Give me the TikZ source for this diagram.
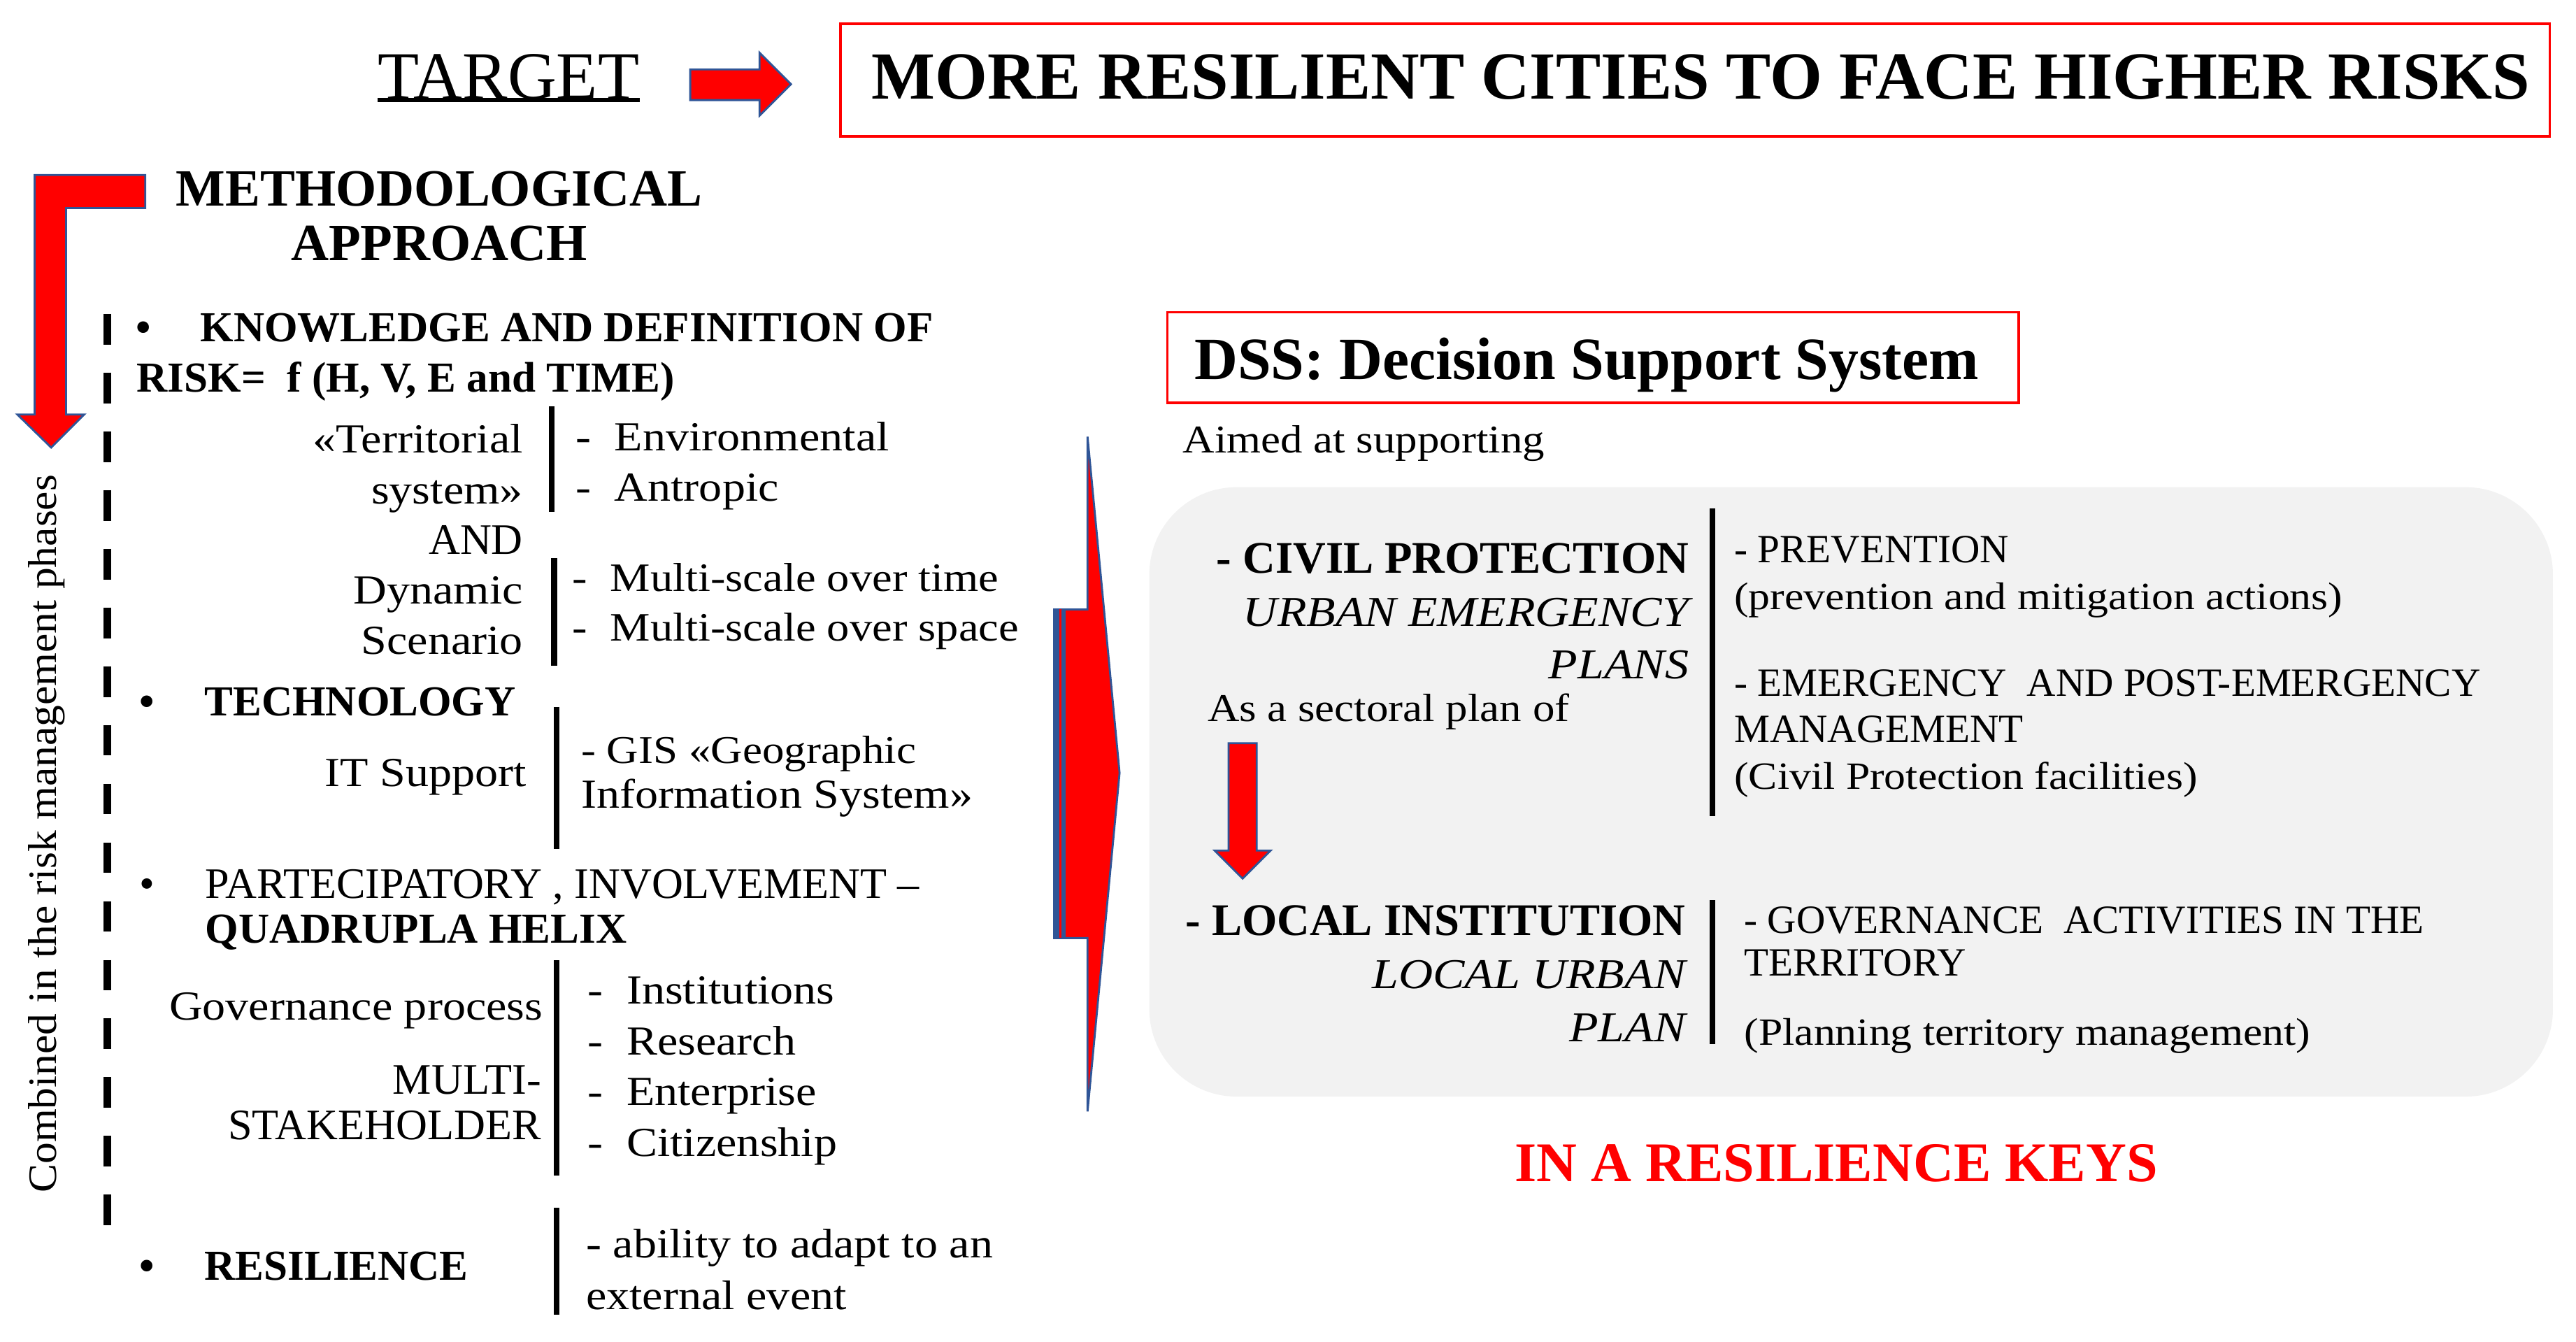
\documentclass[tikz,border=0pt]{standalone}
\usepackage{fontspec}
\setmainfont{Liberation Serif}
\newfontfamily\widefont{Liberation Serif}[FakeStretch=1.12]
\usetikzlibrary{positioning}

\definecolor{arrowblue}{RGB}{47,85,151}
\definecolor{boxgray}{RGB}{242,242,242}

\tikzset{
  txt/.style={inner sep=0pt, anchor=base west, font=\widefont\fontsize{16.8}{20}\selectfont},
  rtxt/.style={txt, anchor=base east},
  narrow/.style={font=\widefont\fontsize{16}{19}\selectfont},
  ctxt/.style={txt, font=\fontsize{17.7}{21}\selectfont},
  rctxt/.style={ctxt, anchor=base east},
  btxt/.style={txt, font=\fontsize{17.4}{21}\selectfont\bfseries},
  lbtxt/.style={txt, anchor=base east, font=\fontsize{18.4}{22}\selectfont\bfseries},
  litxt/.style={txt, anchor=base east, font=\widefont\fontsize{17.3}{21}\selectfont\itshape},
  gctxt/.style={txt, font=\fontsize{16.3}{19}\selectfont},
  gtxt/.style={txt, font=\widefont\fontsize{15.7}{19}\selectfont},
  bar/.style={line width=2.4pt},
  redarrow/.style={fill=red, draw=arrowblue, line width=0.8pt},
  redbox/.style={draw=red, line width=1pt},
}

\begin{document}
\begin{tikzpicture}[x=0.023615cm, y=-0.023615cm]
  \useasboundingbox (0,0) rectangle (1560,812.6);

  % target row
  \node[txt, anchor=base, font=\fontsize{27.5}{30}\selectfont] (target) at (308,60) {TARGET};
  \draw[line width=1.8pt, yshift=-3.5pt] (target.south west) -- (target.south east);
  \fill[redarrow] (418,42) -- (460,42) -- (460,32) -- (479,51) -- (460,70) -- (460,60.6) -- (418,60.6) -- cycle;
  \draw[redbox] (509,14.5) rectangle (1544,82.6);
  \node[txt, anchor=base, font=\fontsize{27.4}{30}\selectfont\bfseries] (goal) at (1030,60) {MORE RESILIENT CITIES TO FACE HIGHER RISKS};

  % methodological approach
  \fill[redarrow] (88,106) -- (88,126) -- (40,126) -- (40,251) -- (51,251) -- (31,271) -- (10.5,251) -- (21,251) -- (21,106) -- cycle;
  \node[txt, anchor=base, font=\fontsize{21.3}{25}\selectfont\bfseries] (metho) at (266,124.8) {METHODOLOGICAL};
  \node[txt, anchor=base, font=\fontsize{21.3}{25}\selectfont\bfseries] (appr) at (266,157.9) {APPROACH};

  \draw[line width=3.2pt, dash pattern=on 12.5pt off 11.4pt] (65,190) -- (65,758);
  \node[txt, rotate=90] (phases) at (33.9,722.6) {\resizebox{10.27cm}{0.40cm}{Combined in the risk management phases}};

  % knowledge
  \node[btxt, anchor=base] (bul1) at (87,207) {•};
  \node[btxt] (know) at (121,207) {KNOWLEDGE AND DEFINITION OF};
  \node[btxt] (riskf) at (82.5,237.3) {RISK=\ \ f (H, V, E and TIME)};
  \node[rtxt] (terr) at (317,274) {«Territorial};
  \node[rtxt] (syst) at (317,305) {system»};
  \draw[bar] (334,246) -- (334,310);
  \node[txt] (env) at (348.5,273) {-\ \ Environmental};
  \node[txt] (antr) at (348.5,303.6) {-\ \ Antropic};
  \node[rctxt] (andn) at (317,335.4) {AND};
  \node[rtxt] (dyn) at (317,365.5) {Dynamic};
  \node[rtxt] (scen) at (317,396) {Scenario};
  \draw[bar] (335.5,338) -- (335.5,403);
  \node[txt, font=\widefont\fontsize{16.4}{20}\selectfont] (mtime) at (346.5,358) {-\ \ Multi-scale over time};
  \node[txt, font=\widefont\fontsize{16.4}{20}\selectfont] (mspace) at (346.5,388.3) {-\ \ Multi-scale over space};

  % technology
  \node[btxt, anchor=base] (bul2) at (89,433.6) {•};
  \node[btxt] (tech) at (123.6,433.6) {TECHNOLOGY};
  \node[rtxt] (itsup) at (319,476) {IT Support};
  \draw[bar] (337,428) -- (337,514);
  \node[txt, narrow] (gis) at (351.7,462) {- GIS «Geographic};
  \node[txt] (gisb) at (351.7,489.4) {Information System»};

  % participation
  \node[ctxt, anchor=base] (bul3) at (89,544) {•};
  \node[ctxt] (part) at (124,544) {PARTECIPATORY , INVOLVEMENT --};
  \node[btxt] (quad) at (124,571) {QUADRUPLA HELIX};
  \node[rtxt] (gov) at (329,617.8) {Governance process};
  \node[rctxt] (multi) at (328,662.6) {MULTI-};
  \node[rctxt] (stake) at (328,690) {STAKEHOLDER};
  \draw[bar] (337,581.5) -- (337,712);
  \node[txt] (inst) at (355.8,608) {-\ \ Institutions};
  \node[txt] (rsrch) at (355.8,638.6) {-\ \ Research};
  \node[txt] (ent) at (355.8,669.4) {-\ \ Enterprise};
  \node[txt] (cit) at (355.8,700) {-\ \ Citizenship};

  % resilience
  \node[btxt, anchor=base] (bul4) at (89,775) {•};
  \node[btxt] (resil) at (123.6,775) {RESILIENCE};
  \draw[bar] (337,731.5) -- (337,796);
  \node[txt] (abil) at (354.6,761.6) {- ability to adapt to an};
  \node[txt] (abilb) at (354.6,792.7) {external event};

  % big arrow to the DSS
  \fill[redarrow] (638.4,369) -- (658.6,369) -- (658.6,264.4) -- (678,468) -- (658.6,673) -- (658.6,568) -- (638.4,568) -- cycle;
  \fill[arrowblue] (638.4,369) rectangle (645.5,568);
  \draw[red, line width=0.8pt] (642.2,369) -- (642.2,568);

  % DSS
  \draw[redbox] (707,189) rectangle (1222.5,244);
  \node[txt, font=\fontsize{24.4}{28}\selectfont\bfseries] (dss) at (723,229.7) {DSS: Decision Support System};
  \node[txt, narrow] (aimed) at (716,274) {Aimed at supporting};

  \fill[boxgray, rounded corners=1.25cm] (696,295) rectangle (1546,664);

  % civil protection
  \node[lbtxt] (civil) at (1023,347) {- CIVIL PROTECTION};
  \node[litxt] (urban) at (1023,379) {URBAN EMERGENCY};
  \node[litxt] (plans) at (1023,411) {PLANS};
  \node[txt, narrow] (sect) at (731,437) {As a sectoral plan of};
  \draw[bar] (1037,308) -- (1037,494);
  \node[gctxt] (prev) at (1050,340.7) {- PREVENTION};
  \node[gtxt] (prevb) at (1050,369) {(prevention and mitigation actions)};
  \node[gctxt] (emerg) at (1050,421.5) {- EMERGENCY\ \ AND POST-EMERGENCY};
  \node[gctxt] (emergb) at (1050,449.7) {MANAGEMENT};
  \node[gtxt] (emergc) at (1050,478) {(Civil Protection facilities)};

  \fill[redarrow] (744,450) -- (761,450) -- (761,515) -- (769.5,515) -- (752.5,532) -- (735.5,515) -- (744,515) -- cycle;

  % local institution
  \node[lbtxt] (local) at (1021,566.5) {- LOCAL INSTITUTION};
  \node[litxt] (lurb) at (1021,598.6) {LOCAL URBAN};
  \node[litxt] (lplan) at (1021,630.6) {PLAN};
  \draw[bar] (1037,545) -- (1037,632);
  \node[gctxt] (govact) at (1056,565) {- GOVERNANCE\ \ ACTIVITIES IN THE};
  \node[gctxt] (territ) at (1056,591) {TERRITORY};
  \node[gtxt] (plann) at (1056,633) {(Planning territory management)};

  \node[txt, anchor=base, text=red, font=\fontsize{22.8}{26}\selectfont\bfseries] (keys) at (1112,715.6) {IN A RESILIENCE KEYS};
\end{tikzpicture}
\end{document}
